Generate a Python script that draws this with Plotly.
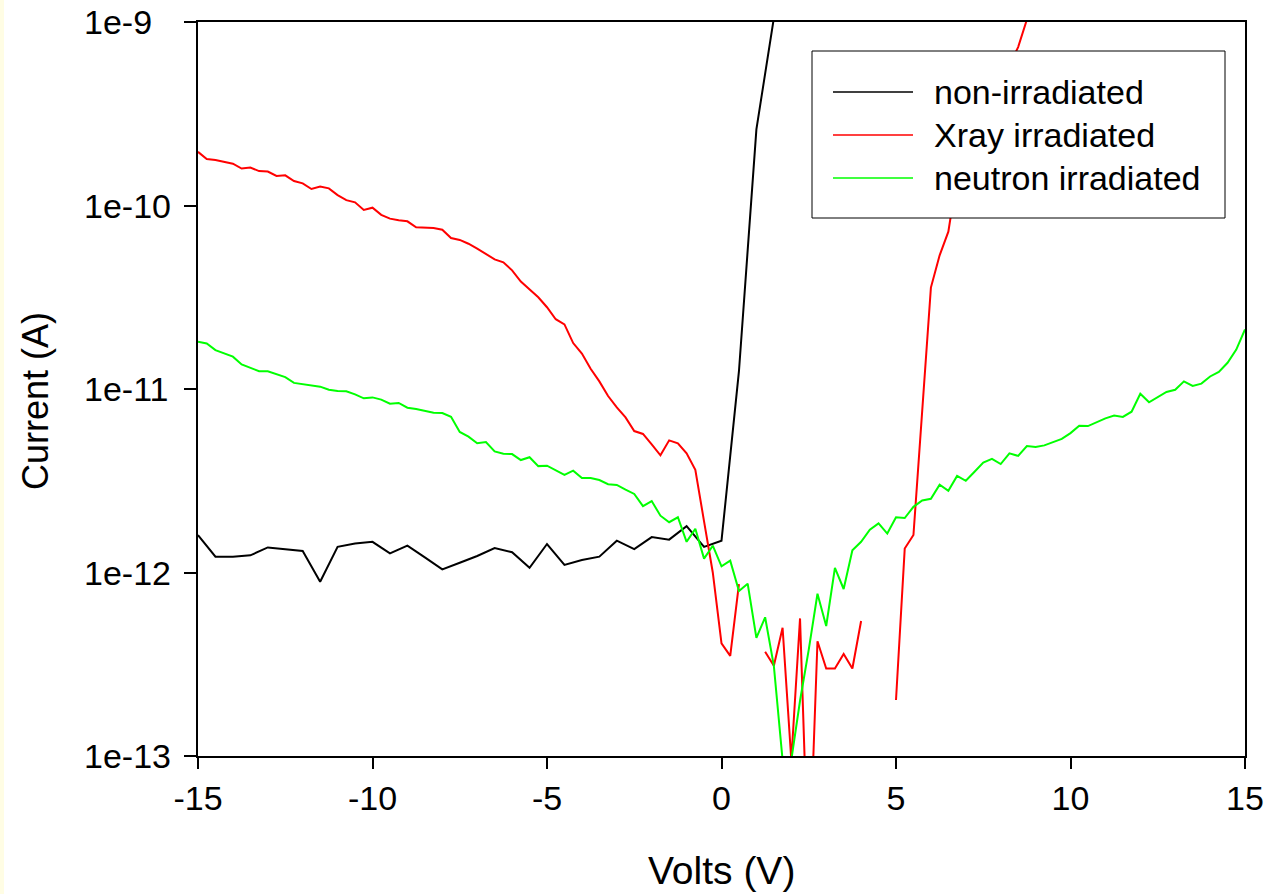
import numpy as np
import plotly.graph_objects as go

# ---------------- data ----------------
# non-irradiated: -15 V .. 2 V, step 0.5 V (one row per volt)
black_I = [
    1.60e-12, 1.22e-12,   # -15
    1.22e-12, 1.24e-12,   # -14
    1.37e-12, 1.34e-12,   # -13
    1.31e-12, 8.9e-13,    # -12
    1.38e-12, 1.44e-12,   # -11
    1.47e-12, 1.27e-12,   # -10
    1.40e-12, 1.21e-12,   # -9
    1.04e-12, 1.13e-12,   # -8
    1.23e-12, 1.36e-12,   # -7
    1.29e-12, 1.06e-12,   # -6
    1.43e-12, 1.10e-12,   # -5
    1.17e-12, 1.22e-12,   # -4
    1.49e-12, 1.34e-12,   # -3
    1.56e-12, 1.51e-12,   # -2
    1.79e-12, 1.38e-12,   # -1
    1.49e-12, 1.25e-11,   # 0
    2.6e-10, 1.05e-9,     # 1
    4.0e-9,               # 2
]
black_V = np.round(-15 + 0.5 * np.arange(len(black_I)), 2)

# Xray irradiated: -15 V .. 9 V, step 0.25 V (None = no positive reading)
red_I = [
    1.96e-10, 1.79e-10, 1.77e-10, 1.73e-10,   # -15
    1.69e-10, 1.59e-10, 1.61e-10, 1.54e-10,   # -14
    1.53e-10, 1.45e-10, 1.46e-10, 1.36e-10,   # -13
    1.32e-10, 1.23e-10, 1.27e-10, 1.24e-10,   # -12
    1.14e-10, 1.07e-10, 1.04e-10, 9.45e-11,   # -11
    9.73e-11, 8.9e-11, 8.48e-11, 8.3e-11,     # -10
    8.2e-11, 7.6e-11, 7.6e-11, 7.54e-11,      # -9
    7.38e-11, 6.65e-11, 6.49e-11, 6.19e-11,   # -8
    5.82e-11, 5.42e-11, 5.09e-11, 4.9e-11,    # -7
    4.43e-11, 3.85e-11, 3.49e-11, 3.16e-11,   # -6
    2.79e-11, 2.40e-11, 2.25e-11, 1.78e-11,   # -5
    1.56e-11, 1.29e-11, 1.10e-11, 9.16e-12,   # -4
    7.94e-12, 7.0e-12, 5.9e-12, 5.69e-12,     # -3
    4.99e-12, 4.35e-12, 5.25e-12, 5.06e-12,   # -2
    4.46e-12, 3.63e-12, 1.9e-12, 1.0e-12,     # -1
    4.11e-13, 3.51e-13, 8.63e-13, None,       # 0
    None, 3.70e-13, 3.10e-13, 5.0e-13,        # 1
    9.5e-14, 5.62e-13, 2.0e-14, 4.22e-13,     # 2
    3.0e-13, 3.0e-13, 3.6e-13, 3.0e-13,       # 3
    5.44e-13, None, None, None,               # 4
    2.02e-13, 1.35e-12, 1.60e-12, 7.8e-12,    # 5
    3.57e-11, 5.35e-11, 7.2e-11, 1.45e-10,    # 6
    1.9e-10, 2.4e-10, 3.0e-10, 3.8e-10,       # 7
    4.7e-10, 5.9e-10, 7.3e-10, 1.03e-9,       # 8
    1.4e-9,                                   # 9
]
red_V = np.round(-15 + 0.25 * np.arange(len(red_I)), 2)

# neutron irradiated: -15 V .. 15 V, step 0.25 V
green_I = [
    1.81e-11, 1.77e-11, 1.63e-11, 1.57e-11,   # -15
    1.50e-11, 1.36e-11, 1.31e-11, 1.25e-11,   # -14
    1.25e-11, 1.20e-11, 1.16e-11, 1.08e-11,   # -13
    1.06e-11, 1.04e-11, 1.03e-11, 9.9e-12,    # -12
    9.75e-12, 9.71e-12, 9.35e-12, 8.9e-12,    # -11
    9.0e-12, 8.75e-12, 8.32e-12, 8.39e-12,    # -10
    7.91e-12, 7.78e-12, 7.59e-12, 7.43e-12,   # -9
    7.4e-12, 7.05e-12, 5.83e-12, 5.5e-12,     # -8
    5.06e-12, 5.14e-12, 4.57e-12, 4.44e-12,   # -7
    4.42e-12, 4.10e-12, 4.25e-12, 3.80e-12,   # -6
    3.82e-12, 3.60e-12, 3.40e-12, 3.59e-12,   # -5
    3.27e-12, 3.27e-12, 3.19e-12, 3.03e-12,   # -4
    3.0e-12, 2.83e-12, 2.68e-12, 2.30e-12,    # -3
    2.45e-12, 2.04e-12, 1.88e-12, 2.0e-12,    # -2
    1.47e-12, 1.73e-12, 1.19e-12, 1.40e-12,   # -1
    1.08e-12, 1.16e-12, 7.93e-13, 8.69e-13,   # 0
    4.40e-13, 5.70e-13, 3.10e-13, 9.5e-14,    # 1
    9.5e-14, 2.0e-13, 3.8e-13, 7.66e-13,      # 2
    5.11e-13, 1.06e-12, 8.13e-13, 1.32e-12,   # 3
    1.47e-12, 1.71e-12, 1.85e-12, 1.63e-12,   # 4
    2.0e-12, 1.98e-12, 2.28e-12, 2.47e-12,    # 5
    2.52e-12, 3.01e-12, 2.79e-12, 3.36e-12,   # 6
    3.16e-12, 3.54e-12, 3.97e-12, 4.16e-12,   # 7
    3.90e-12, 4.46e-12, 4.32e-12, 4.89e-12,   # 8
    4.83e-12, 4.93e-12, 5.14e-12, 5.35e-12,   # 9
    5.75e-12, 6.31e-12, 6.28e-12, 6.61e-12,   # 10
    6.92e-12, 7.16e-12, 7.04e-12, 7.52e-12,   # 11
    9.42e-12, 8.46e-12, 9.01e-12, 9.64e-12,   # 12
    9.91e-12, 1.10e-11, 1.04e-11, 1.07e-11,   # 13
    1.17e-11, 1.24e-11, 1.39e-11, 1.64e-11,   # 14
    2.11e-11,                                 # 15
]
green_V = np.round(-15 + 0.25 * np.arange(len(green_I)), 2)

series_names = ["non-irradiated", "Xray irradiated", "neutron irradiated"]
series_colors = ["#000000", "#ff0000", "#00ff00"]

x_ticks = [-15, -10, -5, 0, 5, 10, 15]
x_tick_text = ["-15", "-10", "-5", "0", "5", "10", "15"]
y_tick_exp = [-9, -10, -11, -12, -13]
y_tick_text = ["1e-9", "1e-10", "1e-11", "1e-12", "1e-13"]

# ---------------- figure ----------------
FONT = "Liberation Sans, Arial, sans-serif"
W, H = 1275, 894
L, R, T, B = 198, 30, 22, 138
PW, PH = W - L - R, H - T - B


def px(xp):
    return (xp - L) / PW


def py(yp):
    return (H - B - yp) / PH


fig = go.Figure()
for V, I, name, col in zip([black_V, red_V, green_V], [black_I, red_I, green_I],
                           series_names, series_colors):
    fig.add_trace(go.Scatter(x=V, y=I, mode="lines", name=name,
                             line=dict(color=col, width=2), connectgaps=False,
                             showlegend=False))

fig.update_layout(
    width=W, height=H, autosize=False,
    margin=dict(l=L, r=R, t=T, b=B),
    paper_bgcolor="white", plot_bgcolor="white",
    font=dict(family=FONT, color="black", size=34),
    xaxis=dict(range=[-15, 15], tickvals=x_ticks, ticktext=x_tick_text,
               ticks="outside", ticklen=11,
               tickwidth=2, tickcolor="black", showline=True, linecolor="black",
               linewidth=2, mirror=True, showgrid=False, zeroline=False,
               tickfont=dict(size=34, family=FONT)),
    yaxis=dict(type="log", range=[-13, -9], tickvals=[10.0 ** e for e in y_tick_exp],
               ticks="outside", ticklen=12, tickwidth=2, tickcolor="black",
               showline=True, linecolor="black", linewidth=2, mirror=True,
               showgrid=False, zeroline=False, showticklabels=False),
)

annotations = []
# y tick labels (left aligned as in reference)
for e, t in zip(y_tick_exp, y_tick_text):
    annotations.append(dict(x=px(82), xref="paper", y=e, yref="y", text=t,
                            showarrow=False, xanchor="left", yanchor="middle",
                            font=dict(size=34, family=FONT)))
# axis titles
annotations.append(dict(x=px(721), xref="paper", y=py(870), yref="paper", text="Volts (V)",
                        showarrow=False, xanchor="center", yanchor="middle",
                        font=dict(size=39, family=FONT)))
annotations.append(dict(x=px(35), xref="paper", y=py(401), yref="paper", text="Current (A)",
                        showarrow=False, xanchor="center", yanchor="middle", textangle=-90,
                        font=dict(size=36, family=FONT)))

shapes = []
# faint yellow strip on the left edge
shapes.append(dict(type="rect", xref="paper", yref="paper", x0=px(0), x1=px(4),
                   y0=py(H), y1=py(0), fillcolor="#fffde4", line=dict(width=0),
                   layer="below"))
# legend box
shapes.append(dict(type="rect", xref="paper", yref="paper", x0=px(812), x1=px(1225),
                   y0=py(218), y1=py(51), fillcolor="white",
                   line=dict(color="black", width=1), layer="above"))
rows = [92, 135, 178]
for yy, name, col in zip(rows, series_names, series_colors):
    shapes.append(dict(type="line", xref="paper", yref="paper", x0=px(833), x1=px(913),
                       y0=py(yy), y1=py(yy), line=dict(color=col, width=1.5),
                       layer="above"))
    annotations.append(dict(x=px(932), xref="paper", y=py(yy), yref="paper", text=name,
                            showarrow=False, xanchor="left", yanchor="middle",
                            font=dict(size=34, family=FONT)))

fig.update_layout(annotations=annotations, shapes=shapes)
fig.write_html("out.html", config={"responsive": False})
